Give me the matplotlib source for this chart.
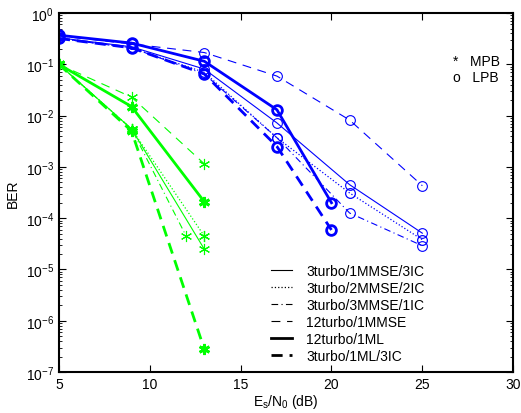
import matplotlib
matplotlib.use("Agg")
import matplotlib.pyplot as plt
from matplotlib.lines import Line2D

plt.rcParams['font.family'] = ['Liberation Sans', 'DejaVu Sans']
plt.rcParams['mathtext.fontset'] = 'custom'
plt.rcParams['mathtext.rm'] = 'Liberation Sans'
plt.rcParams['mathtext.it'] = 'Liberation Sans'

# LPB (blue, circles)
x_lpb = [5, 9, 13, 17, 21, 25]
x_lpb_ml = [5, 9, 13, 17, 20]
lpb_1mmse_3ic = [0.33, 0.22, 0.081, 0.0072, 4.5e-4, 5.1e-5]
lpb_2mmse_2ic = [0.32, 0.21, 0.07, 0.0037, 3.1e-4, 3.8e-5]
lpb_3mmse_1ic = [0.32, 0.21, 0.065, 0.0037, 1.26e-4, 2.9e-5]
lpb_12_1mmse = [0.36, 0.25, 0.17, 0.059, 8.2e-3, 4.3e-4]
lpb_12_1ml = [0.37, 0.26, 0.115, 0.013, 2.0e-4]
lpb_3_1ml_3ic = [0.32, 0.21, 0.065, 0.0025, 5.9e-5]

# MPB (green, stars)
x_mpb = [5, 9, 13]
x_mpb_dd = [5, 9, 12]
mpb_1mmse_3ic = [0.1, 5.5e-3, 2.5e-5]
mpb_2mmse_2ic = [0.1, 5.5e-3, 4.5e-5]
mpb_3mmse_1ic = [0.1, 5.5e-3, 4.5e-5]
mpb_12_1mmse = [0.1, 0.023, 1.15e-3]
mpb_12_1ml = [0.1, 0.015, 2.1e-4]
mpb_3_1ml_3ic = [0.1, 5.0e-3, 2.8e-7]

labels = ['3turbo/1MMSE/3IC', '3turbo/2MMSE/2IC', '3turbo/3MMSE/1IC',
          '12turbo/1MMSE', '12turbo/1ML', '3turbo/1ML/3IC']
styles = ['-', ':', (0, (6, 3, 1, 3)), (0, (8, 6)), '-', (0, (4, 2.5))]
widths = [0.8, 0.9, 0.8, 0.8, 2.0, 2.0]

fig = plt.figure(figsize=(5.21, 4.14), dpi=100)
ax = fig.add_axes([0.113, 0.099, 0.872, 0.867])

blue_x = [x_lpb, x_lpb, x_lpb, x_lpb, x_lpb_ml, x_lpb_ml]
blue_y = [lpb_1mmse_3ic, lpb_2mmse_2ic, lpb_3mmse_1ic, lpb_12_1mmse, lpb_12_1ml, lpb_3_1ml_3ic]
green_x = [x_mpb, x_mpb, x_mpb_dd, x_mpb, x_mpb, x_mpb]
green_y = [mpb_1mmse_3ic, mpb_2mmse_2ic, mpb_3mmse_1ic, mpb_12_1mmse, mpb_12_1ml, mpb_3_1ml_3ic]

for i in range(6):
    ax.semilogy(blue_x[i], blue_y[i], color='b', linestyle=styles[i], lw=widths[i],
                marker='o', ms=7, mfc='none', mew=widths[i])
    ax.semilogy(green_x[i], green_y[i], color=(0, 1, 0), linestyle=styles[i], lw=widths[i],
                marker=(6, 2, 0), ms=8, mew=widths[i])

ax.set_xlim(5, 30)
ax.set_ylim(1e-7, 1)
ax.set_xticks([5, 10, 15, 20, 25, 30])
ax.tick_params(which='both', direction='in', top=True, right=True, labelsize=10)
ax.tick_params(which='major', length=5)
ax.tick_params(which='minor', length=2.5)
for s in ax.spines.values():
    s.set_linewidth(1.5)
ax.set_xlabel(r'E$_\mathrm{s}$/N$_\mathrm{0}$ (dB)', fontsize=10, labelpad=1)
ax.set_ylabel('BER', fontsize=10)

handles = [Line2D([0], [0], color='k', linestyle=styles[i], lw=widths[i]) for i in range(6)]
ax.legend(handles, labels, loc='lower left', bbox_to_anchor=(0.44, -0.01), frameon=False,
          fontsize=10, handlelength=1.5, labelspacing=0.22, handletextpad=1.0)

ax.text(0.868, 0.866, '*   MPB', transform=ax.transAxes, fontsize=10, va='center')
ax.text(0.868, 0.822, 'o   LPB', transform=ax.transAxes, fontsize=10, va='center')

fig.savefig('out.png', dpi=100)
